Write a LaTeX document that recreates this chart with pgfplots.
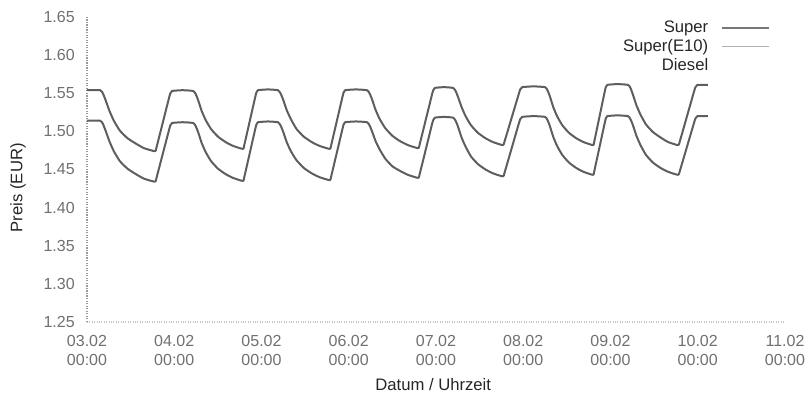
\documentclass[border=0pt]{standalone}
\usepackage{fontspec}
\setmainfont{Liberation Sans}
\usepackage{pgfplots}
\pgfplotsset{compat=1.18}

\definecolor{linegray}{HTML}{5E5E5E}
\definecolor{legendgray}{HTML}{B0B0B0}
\definecolor{tickgray}{HTML}{707070}
\definecolor{textdark}{HTML}{262626}

\begin{document}
\begin{tikzpicture}
% page = 806x403 px at 0.75pt per px
\path[use as bounding box] (-65.25pt,-60.75pt) rectangle (539.25pt,241.5pt);
\begin{axis}[
    at={(0,0)}, anchor=south west,
    scale only axis,
    width=523.5pt, height=228.75pt,
    xmin=0, xmax=192,
    ymin=1.25, ymax=1.65,
    axis x line*=bottom,
    axis y line*=left,
    x axis line style={draw=gray!45, densely dotted, line width=0.8pt, -},
    y axis line style={draw=gray!80, densely dotted, line width=0.9pt, -},
    major tick length=0pt,
    xtick={0,24,48,72,96,120,144,168,192},
    xticklabels={{03.02\\00:00},{04.02\\00:00},{05.02\\00:00},{06.02\\00:00},
                 {07.02\\00:00},{08.02\\00:00},{09.02\\00:00},{10.02\\00:00},{11.02\\00:00}},
    ytick={1.25,1.30,1.35,1.40,1.45,1.50,1.55,1.60,1.65},
    yticklabels={1.25,1.30,1.35,1.40,1.45,1.50,1.55,1.60,1.65},
    xticklabel style={align=center, anchor=north, inner sep=0pt, yshift=-9.5pt,
                      font=\fontsize{12}{14.5}\selectfont, text=tickgray},
    yticklabel style={anchor=east, inner sep=0pt, xshift=-9pt,
                      font=\fontsize{12}{14}\selectfont, text=tickgray},
    xlabel={Datum / Uhrzeit},
    ylabel={Preis (EUR)},
    every axis x label/.style={at={(rel axis cs:0.496,0)}, yshift=-47pt, anchor=center,
                               font=\fontsize{12.5}{15}\selectfont, text=textdark},
    every axis y label/.style={at={(rel axis cs:0,0.44)}, xshift=-51.75pt, rotate=90,
                               anchor=center, font=\fontsize{12.5}{15}\selectfont, text=textdark},
    legend style={at={(rel axis cs:0.984,1.0)}, anchor=north east, draw=none, fill=none,
                  font=\fontsize{12.5}{15}\selectfont, text=textdark,
                  row sep=1.5pt, nodes={inner sep=1pt}},
    legend cell align=right,
    legend plot pos=right,
    legend image code/.code={\path (0pt,0pt); \draw[#1] (9pt,0pt) -- (44pt,0pt);},
    clip=false,
]

% Super
\addplot[forget plot, linegray, line width=1.5pt, smooth, tension=0.3, line join=round] coordinates {
(0,1.554) (3.6,1.554) (4.36,1.550) (5.11,1.541) (6.17,1.527) (7.38,1.514) (9.04,1.501) (11.15,1.491) (13.42,1.484) (15.68,1.478) (18.7,1.474)
(19.17,1.480) (22.46,1.542) (22.93,1.550) (23.4,1.553) (26.3,1.554) (29.2,1.553)
(29.89,1.549) (30.57,1.541) (31.53,1.527) (32.63,1.515) (34.13,1.503) (36.05,1.493) (38.11,1.486) (40.16,1.481) (42.9,1.477)
(43.31,1.483) (46.18,1.543) (46.59,1.551) (47.0,1.554) (49.75,1.555) (52.5,1.554)
(53.22,1.550) (53.93,1.542) (54.93,1.528) (56.08,1.516) (57.65,1.503) (59.65,1.493) (61.80,1.486) (63.94,1.481) (66.8,1.477)
(67.22,1.483) (70.16,1.543) (70.58,1.551) (71.0,1.554) (74.0,1.555) (77.0,1.554)
(77.71,1.550) (78.41,1.542) (79.40,1.528) (80.53,1.516) (82.08,1.504) (84.05,1.494) (86.17,1.487) (88.28,1.482) (91.1,1.478)
(91.56,1.484) (94.78,1.546) (95.24,1.554) (95.7,1.557) (98.2,1.558) (100.7,1.557)
(101.39,1.553) (102.07,1.545) (103.03,1.532) (104.13,1.520) (105.63,1.508) (107.55,1.498) (109.61,1.491) (111.66,1.486) (114.4,1.482)
(114.93,1.488) (118.64,1.547) (119.17,1.555) (119.7,1.558) (122.85,1.559) (126.0,1.558)
(126.66,1.554) (127.32,1.546) (128.24,1.532) (129.3,1.520) (130.75,1.508) (132.6,1.498) (134.58,1.491) (136.56,1.486) (139.2,1.482)
(139.59,1.488) (142.32,1.550) (142.71,1.558) (143.1,1.561) (145.95,1.562) (148.8,1.561)
(149.49,1.557) (150.18,1.548) (151.15,1.534) (152.25,1.522) (153.77,1.509) (155.7,1.499) (157.77,1.492) (159.84,1.486) (162.6,1.482)
(163.13,1.488) (166.84,1.550) (167.37,1.558) (167.9,1.561) (170.8,1.561)
};

% Super(E10)
\addplot[forget plot, linegray, line width=1.5pt, smooth, tension=0.3, line join=round] coordinates {
(0,1.514) (3.6,1.514) (4.36,1.510) (5.11,1.501) (6.17,1.487) (7.38,1.474) (9.04,1.461) (11.15,1.451) (13.42,1.444) (15.68,1.438) (18.7,1.434)
(19.17,1.440) (22.46,1.500) (22.93,1.508) (23.4,1.511) (26.3,1.512) (29.2,1.511)
(29.89,1.507) (30.57,1.499) (31.53,1.485) (32.63,1.473) (34.13,1.461) (36.05,1.451) (38.11,1.444) (40.16,1.439) (42.9,1.435)
(43.31,1.441) (46.18,1.501) (46.59,1.509) (47.0,1.512) (49.75,1.513) (52.5,1.512)
(53.22,1.508) (53.93,1.500) (54.93,1.486) (56.08,1.474) (57.65,1.462) (59.65,1.452) (61.80,1.445) (63.94,1.440) (66.8,1.436)
(67.22,1.442) (70.16,1.501) (70.58,1.509) (71.0,1.512) (74.0,1.513) (77.0,1.512)
(77.71,1.508) (78.41,1.500) (79.40,1.487) (80.53,1.476) (82.08,1.464) (84.05,1.454) (86.17,1.448) (88.28,1.443) (91.1,1.439)
(91.56,1.445) (94.78,1.507) (95.24,1.515) (95.7,1.518) (98.2,1.519) (100.7,1.518)
(101.39,1.514) (102.07,1.506) (103.03,1.492) (104.13,1.480) (105.63,1.467) (107.55,1.457) (109.61,1.450) (111.66,1.445) (114.4,1.441)
(114.93,1.447) (118.64,1.508) (119.17,1.516) (119.7,1.519) (122.85,1.520) (126.0,1.519)
(126.66,1.515) (127.32,1.507) (128.24,1.493) (129.3,1.481) (130.75,1.469) (132.6,1.459) (134.58,1.452) (136.56,1.447) (139.2,1.443)
(139.59,1.449) (142.32,1.509) (142.71,1.517) (143.1,1.520) (145.95,1.521) (148.8,1.520)
(149.49,1.516) (150.18,1.508) (151.15,1.494) (152.25,1.482) (153.77,1.469) (155.7,1.459) (157.77,1.452) (159.84,1.447) (162.6,1.443)
(163.13,1.449) (166.84,1.509) (167.37,1.517) (167.9,1.520) (170.8,1.520)
};

\addlegendimage{linegray!85, line width=1pt}
\addlegendentry{Super}
\addlegendimage{legendgray, line width=1pt}
\addlegendentry{Super(E10)}
\addlegendimage{draw opacity=0}
\addlegendentry{Diesel}
\end{axis}
\end{tikzpicture}
\end{document}
